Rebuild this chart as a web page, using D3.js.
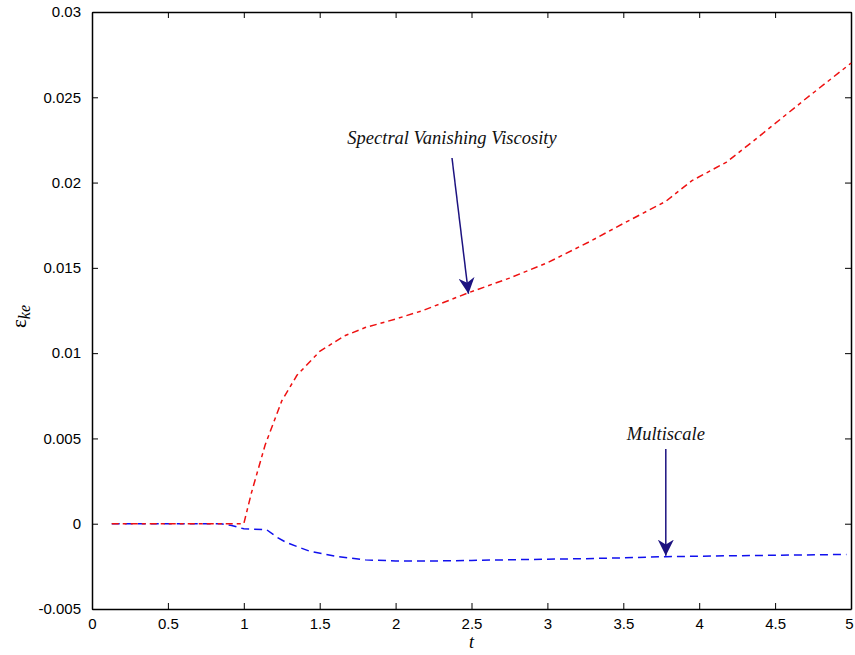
<!DOCTYPE html>
<html>
<head>
<meta charset="utf-8">
<script src="https://cdn.jsdelivr.net/npm/d3@7"></script>
<style>
  body { margin: 0; background: #fff; }
  svg { display: block; }
  .axis text { font-family: "Liberation Sans", Arial, sans-serif; font-size: 15px; fill: #000; }
  .note { font-family: "Liberation Serif", "Times New Roman", serif; font-style: italic; font-size: 18.5px; fill: #111; }
</style>
</head>
<body>
<script>
// time values and kinetic energy error
let tSvv  = [0.13, 0.5, 0.95, 1.0, 1.05, 1.14, 1.25, 1.35, 1.5, 1.66, 1.8, 2.0, 2.18, 2.48, 2.75, 3.0, 3.27, 3.5, 3.78, 3.95, 4.18, 4.38, 4.7, 5.0];
let eSvv  = [0, 0, 0, 0, 0.0018, 0.0046, 0.0072, 0.0087, 0.0101, 0.011, 0.0115, 0.012, 0.0125, 0.01354, 0.0144, 0.0153, 0.0165, 0.0176, 0.0189, 0.0201, 0.0212, 0.0226, 0.0249, 0.027];

let tMs   = [0.13, 0.5, 0.85, 0.92, 1.0, 1.15, 1.22, 1.28, 1.43, 1.6, 1.8, 2.0, 2.3, 2.5, 3.0, 3.24, 3.5, 3.78, 4.2, 4.6, 4.97];
let eMs   = [0, 0, 0, -0.0001, -0.0003, -0.00035, -0.0008, -0.0011, -0.0016, -0.0019, -0.00212, -0.00218, -0.00218, -0.00215, -0.00208, -0.00205, -0.002, -0.00193, -0.00188, -0.00184, -0.0018];

let xTicks = [0, 0.5, 1, 1.5, 2, 2.5, 3, 3.5, 4, 4.5, 5];
let yTicks = [-0.005, 0, 0.005, 0.01, 0.015, 0.02, 0.025, 0.03];

let w = 855, h = 655;
let padL = 92, padR = 851, padT = 12, padB = 609;

let xScale = d3.scaleLinear().domain([0, 5]).range([padL, padR]);
let yScale = d3.scaleLinear().domain([-0.005, 0.03]).range([padB, padT]);

let svg = d3.select('body').append('svg')
  .attr('width', w)
  .attr('height', h);

let navy = '#1c1280';

svg.append('defs').append('marker')
  .attr('id', 'head')
  .attr('viewBox', '0 0 10 10')
  .attr('refX', 10).attr('refY', 5)
  .attr('markerWidth', 16).attr('markerHeight', 16)
  .attr('markerUnits', 'userSpaceOnUse')
  .attr('orient', 'auto')
  .append('path')
  .attr('d', 'M0,0 L10,5 L0,10 L3,5 Z')
  .attr('fill', navy);

// axes: ticks inside on all four sides
let fmt = d => d === 0 ? '0' : String(d);

svg.append('g').attr('class', 'axis')
  .attr('transform', 'translate(0,' + padB + ')')
  .call(d3.axisBottom(xScale).tickValues(xTicks).tickSizeInner(-6).tickSizeOuter(0).tickPadding(9).tickFormat(fmt));
svg.append('g').attr('class', 'axis')
  .attr('transform', 'translate(0,' + padT + ')')
  .call(d3.axisTop(xScale).tickValues(xTicks).tickSizeInner(-6).tickSizeOuter(0).tickFormat(''));
svg.append('g').attr('class', 'axis')
  .attr('transform', 'translate(' + padL + ',0)')
  .call(d3.axisLeft(yScale).tickValues(yTicks).tickSizeInner(-6).tickSizeOuter(0).tickPadding(11).tickFormat(fmt));
svg.append('g').attr('class', 'axis')
  .attr('transform', 'translate(' + padR + ',0)')
  .call(d3.axisRight(yScale).tickValues(yTicks).tickSizeInner(-6).tickSizeOuter(0).tickFormat(''));

svg.selectAll('.axis .domain').attr('stroke', '#000').attr('stroke-width', 1.5);
svg.selectAll('.axis .tick line').attr('stroke', '#000').attr('stroke-width', 1);
// keep the last x label inside the window
svg.selectAll('.axis .tick text').filter(d => d === 5).attr('dx', -2);

let line = d3.line().x(d => xScale(d[0])).y(d => yScale(d[1]));

svg.append('path')
  .datum(tMs.map((t, i) => [t, eMs[i]]))
  .attr('d', line)
  .attr('fill', 'none')
  .attr('stroke', '#1010ee')
  .attr('stroke-width', 1.5)
  .attr('stroke-dasharray', '8,5');

svg.append('path')
  .datum(tSvv.map((t, i) => [t, eSvv[i]]))
  .attr('d', line)
  .attr('fill', 'none')
  .attr('stroke', '#ee1111')
  .attr('stroke-width', 1.5)
  .attr('stroke-dasharray', '7,4,4,4');

// annotations
svg.append('line')
  .attr('x1', 452).attr('y1', 158)
  .attr('x2', xScale(2.48)).attr('y2', yScale(0.01354) + 1)
  .attr('stroke', navy).attr('stroke-width', 1.5)
  .attr('marker-end', 'url(#head)');
svg.append('text').attr('class', 'note')
  .attr('x', 452).attr('y', 144).attr('text-anchor', 'middle')
  .text('Spectral Vanishing Viscosity');

svg.append('line')
  .attr('x1', xScale(3.78)).attr('y1', 449)
  .attr('x2', xScale(3.78)).attr('y2', yScale(-0.00193) - 1)
  .attr('stroke', navy).attr('stroke-width', 1.5)
  .attr('marker-end', 'url(#head)');
svg.append('text').attr('class', 'note')
  .attr('x', xScale(3.78)).attr('y', 440).attr('text-anchor', 'middle')
  .text('Multiscale');

// axis titles
svg.append('text')
  .attr('x', xScale(2.5)).attr('y', 648)
  .attr('text-anchor', 'middle')
  .style('font-family', '"Liberation Serif", serif')
  .style('font-style', 'italic')
  .style('font-size', '18px')
  .text('t');

let yl = svg.append('text')
  .attr('transform', 'translate(26,328) rotate(-90)')
  .style('font-family', '"Liberation Serif", serif')
  .style('font-size', '21px');
yl.append('tspan').text('ε');
yl.append('tspan').attr('dy', 4).style('font-size', '16px').style('font-style', 'italic').text('ke');
</script>
</body>
</html>
